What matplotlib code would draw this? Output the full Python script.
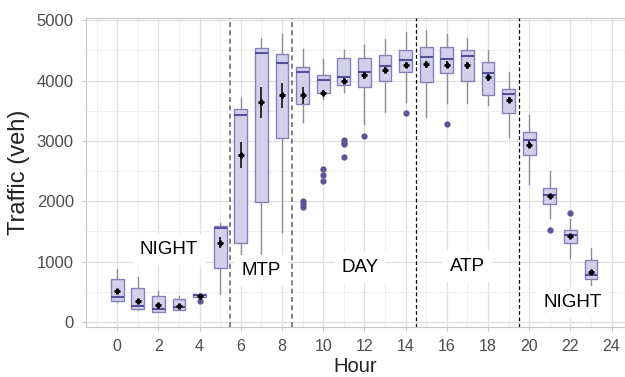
import matplotlib
matplotlib.use("Agg")
import matplotlib.pyplot as plt
from matplotlib.ticker import MultipleLocator

hours = list(range(24))
q1 = [356, 222, 172, 205, 414, 889, 1303, 1993, 3041, 3616, 3798, 3924, 3897, 3990, 4145,
      3974, 4129, 3985, 3758, 3467, 2760, 1949, 1315, 707]
med = [412, 265, 210, 243, 447, 1563, 3422, 4460, 4295, 4139, 4002, 4056, 4139, 4238, 4333,
       4394, 4361, 4404, 4129, 3781, 3013, 2098, 1435, 778]
q3 = [718, 558, 425, 376, 459, 1590, 3523, 4543, 4432, 4222, 4090, 4366, 4377, 4416, 4505,
      4553, 4553, 4498, 4305, 3864, 3152, 2225, 1518, 1022]
wlo = [330, 205, 172, 200, 414, 459, 1070, 1093, 1485, 3311, 3687, 3808, 3285, 3477, 3638,
       3394, 3621, 3632, 3593, 3063, 2291, 1717, 1066, 613]
whi = [884, 751, 508, 431, 459, 1645, 3715, 4709, 4763, 4515, 4361, 4498, 4581, 4692, 4808,
       4829, 4763, 4709, 4498, 4139, 3427, 2495, 1700, 1232]
means = [522, 354, 276, 265, 425, 1314, 2765, 3642, 3758, 3758, 3786, 3990, 4084, 4167, 4261,
         4267, 4261, 4250, 4056, 3671, 2937, 2086, 1419, 834]
ci = [30, 30, 25, 20, 15, 90, 212, 257, 207, 140, 50, 50, 60, 50, 50,
      60, 55, 60, 60, 50, 55, 40, 35, 30]
outliers = [[], [], [], [], [348], [], [], [], [], [1998, 1954, 1911], [2528, 2429, 2334],
            [3008, 2970, 2942, 2739], [3075], [], [3470], [], [3278], [], [], [], [],
            [1518], [1805], []]

period_bounds = [5.5, 8.5, 14.5, 19.5]
period_labels = ["NIGHT", "MTP", "DAY", "ATP", "NIGHT"]
label_x = [2.5, 7.0, 11.8, 17.0, 22.1]
label_y = [1200, 860, 900, 920, 330]

fig = plt.figure(figsize=(6.25, 3.77), dpi=100)
ax = fig.add_axes([0.138, 0.133, 0.862, 0.82])

stats = []
for i in range(len(hours)):
    stats.append(dict(med=med[i], q1=q1[i], q3=q3[i], whislo=wlo[i], whishi=whi[i],
                      fliers=outliers[i]))

ax.bxp(stats, positions=hours, widths=0.62, patch_artist=True, showcaps=False,
       boxprops=dict(facecolor="#D3D0EC", edgecolor="#8580BC", linewidth=1.0),
       medianprops=dict(color="#554F9E", linewidth=1.5),
       whiskerprops=dict(color="#8E8E8E", linewidth=1.0),
       flierprops=dict(marker="o", markersize=3.5, markerfacecolor="#5A5594",
                       markeredgecolor="#5A5594"),
       manage_ticks=False, zorder=3)

ax.errorbar(hours, means, yerr=ci, fmt="P", color="black", markersize=3.5,
            elinewidth=1.1, capsize=0, zorder=5)

for j, b in enumerate(period_bounds):
    if j < 2:
        ax.axvline(b, color="#6E6E6E", linestyle=(0, (3, 2)), linewidth=1.2, zorder=4)
    else:
        ax.axvline(b, color="black", linestyle=(0, (3, 2)), linewidth=0.9, zorder=4)

for lx, ly, lt in zip(label_x, label_y, period_labels):
    ax.text(lx, ly, lt, ha="center", va="center", fontsize=13.5, color="black",
            family="Liberation Sans",
            bbox=dict(facecolor="white", edgecolor="none", pad=5), zorder=6)

ax.set_xlim(-1.5, 24.65)
ax.set_ylim(-80, 5040)
ax.xaxis.set_major_locator(MultipleLocator(2))
ax.xaxis.set_minor_locator(MultipleLocator(1))
ax.yaxis.set_major_locator(MultipleLocator(1000))
ax.yaxis.set_minor_locator(MultipleLocator(500))
ax.grid(which="major", color="#E0E0E0", linewidth=0.9, zorder=0)
ax.grid(which="minor", color="#EDEDED", linewidth=0.6, zorder=0)
ax.set_axisbelow(True)
for s in ax.spines.values():
    s.set_color("#C8C8C8")
    s.set_linewidth(0.8)
ax.tick_params(which="both", length=0, colors="#4D4D4D", pad=6)
ax.tick_params(which="major", axis="both", length=3, color="#C8C8C8")
ax.tick_params(axis="x", labelsize=11.5)
ax.tick_params(axis="y", labelsize=12)
for t in ax.get_xticklabels() + ax.get_yticklabels():
    t.set_family("Liberation Sans")
ax.set_xlabel("Hour", fontsize=14.5, family="Liberation Sans", color="#222222", labelpad=2)
ax.set_ylabel("Traffic (veh)", fontsize=17, family="Liberation Sans", color="#222222", labelpad=5)

fig.savefig("out.png", dpi=100)
